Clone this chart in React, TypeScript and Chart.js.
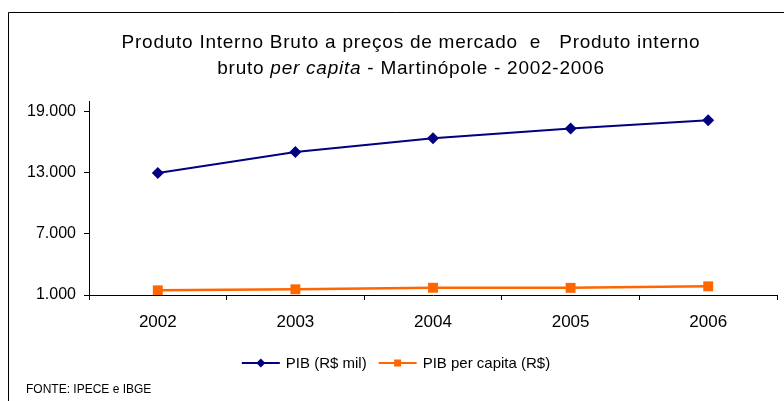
import { useEffect, useRef } from "react";
import { Chart, registerables } from "chart.js";

Chart.register(...registerables);

const years = ["2002", "2003", "2004", "2005", "2006"];
const pibMil = [12950, 15000, 16360, 17310, 18120];
const pibPerCapita = [1460, 1560, 1710, 1700, 1850];
const yTicks = [1000, 7000, 13000, 19000];
const seriesLabels = ["PIB (R$ mil)", "PIB per capita (R$)"];
const seriesColors = ["#000080", "#FF6600"];
const titleLine1 = "Produto Interno Bruto a preços de mercado  e   Produto interno";
const titleLine2 = ["bruto ", "per capita", " - Martinópole - 2002-2006"];
const sourceNote = "FONTE: IPECE e IBGE";

const F = "'Liberation Sans', Arial, sans-serif";

const fmt = (v: number) => String(v).replace(/\B(?=(\d{3})+(?!\d))/g, ".");

function drawMarker(ctx: CanvasRenderingContext2D, style: string, x: number, y: number, r: number, color: string) {
  ctx.fillStyle = color;
  ctx.beginPath();
  if (style === "rectRot") {
    ctx.moveTo(x, y - r);
    ctx.lineTo(x + r, y);
    ctx.lineTo(x, y + r);
    ctx.lineTo(x - r, y);
    ctx.closePath();
  } else {
    ctx.rect(x - r, y - r, 2 * r, 2 * r);
  }
  ctx.fill();
}

const decorPlugin = {
  id: "decor",
  afterDraw(chart: any) {
    const ctx: any = chart.ctx;
    ctx.save();
    // frame
    ctx.strokeStyle = "#000";
    ctx.lineWidth = 1;
    ctx.beginPath();
    ctx.moveTo(8.5, 401);
    ctx.lineTo(8.5, 12.5);
    ctx.lineTo(784, 12.5);
    ctx.stroke();

    // title
    ctx.fillStyle = "#000";
    ctx.textBaseline = "alphabetic";
    ctx.textAlign = "left";
    ctx.letterSpacing = "0.75px";
    ctx.font = `19px ${F}`;
    const w1 = ctx.measureText(titleLine1).width;
    ctx.fillText(titleLine1, 411 - w1 / 2, 48);
    const fonts = [`19px ${F}`, `italic 19px ${F}`, `19px ${F}`];
    const widths = titleLine2.map((t, i) => {
      ctx.font = fonts[i];
      return ctx.measureText(t).width;
    });
    let tx = 411 - widths.reduce((a, b) => a + b, 0) / 2;
    titleLine2.forEach((t, i) => {
      ctx.font = fonts[i];
      ctx.fillText(t, tx, 74);
      tx += widths[i];
    });
    ctx.letterSpacing = "0px";

    // legend
    const ly = 363;
    const sampleW = 38;
    const gapText = 6;
    const gapItem = 12;
    ctx.font = `15px ${F}`;
    ctx.textBaseline = "middle";
    const ds = chart.data.datasets;
    const tw = ds.map((d: any) => ctx.measureText(d.label).width);
    const total = ds.length * (sampleW + gapText) + tw.reduce((a: number, b: number) => a + b, 0) + gapItem * (ds.length - 1);
    let lx = 396 - total / 2;
    ds.forEach((d: any, i: number) => {
      ctx.strokeStyle = d.borderColor;
      ctx.lineWidth = 2;
      ctx.beginPath();
      ctx.moveTo(lx, ly);
      ctx.lineTo(lx + sampleW, ly);
      ctx.stroke();
      drawMarker(ctx, d.pointStyle, lx + sampleW / 2, ly, d.pointStyle === "rectRot" ? 4.5 : 3.5, d.borderColor);
      ctx.fillStyle = "#000";
      ctx.fillText(d.label, lx + sampleW + gapText, ly + 1);
      lx += sampleW + gapText + tw[i] + gapItem;
    });

    // source
    ctx.font = `12px ${F}`;
    ctx.fillStyle = "#000";
    ctx.textBaseline = "middle";
    ctx.fillText(sourceNote, 26, 390);
    ctx.restore();
  },
};

export default function App() {
  const ref = useRef<HTMLCanvasElement | null>(null);
  useEffect(() => {
    if (!ref.current) return;
    const chart = new Chart(ref.current, {
      type: "line",
      data: {
        labels: years,
        datasets: [
          {
            label: seriesLabels[0],
            data: pibMil,
            borderColor: seriesColors[0],
            backgroundColor: seriesColors[0],
            borderWidth: 2,
            pointStyle: "rectRot",
            pointRadius: 6,
            pointHoverRadius: 6,
            pointBorderWidth: 0,
            tension: 0,
          },
          {
            label: seriesLabels[1],
            data: pibPerCapita,
            borderColor: seriesColors[1],
            backgroundColor: seriesColors[1],
            borderWidth: 2.5,
            pointStyle: "rect",
            pointRadius: 7,
            pointHoverRadius: 7,
            pointBorderWidth: 0,
            tension: 0,
          },
        ],
      },
      options: {
        animation: false,
        responsive: false,
        layout: { padding: { top: 101, right: 5, bottom: 66, left: 0 } },
        plugins: {
          legend: { display: false },
          title: { display: false },
          tooltip: { enabled: false },
        },
        scales: {
          x: {
            type: "category",
            offset: true,
            grid: { display: true, drawOnChartArea: false, drawTicks: true, tickLength: 5, color: "#000", offset: true },
            border: { display: true, color: "#000", width: 1 },
            ticks: { color: "#000", font: { family: F, size: 17 }, padding: 12, maxRotation: 0, autoSkip: false },
            afterFit: (s: any) => {
              s.height = 40;
            },
          },
          y: {
            min: 1000,
            max: 20000,
            afterBuildTicks: (s: any) => {
              s.ticks = yTicks.map((v) => ({ value: v }));
            },
            grid: { display: true, drawOnChartArea: false, drawTicks: true, tickLength: 5, color: "#000" },
            border: { display: true, color: "#000", width: 1 },
            ticks: { color: "#000", font: { family: F, size: 16 }, padding: 8, callback: (v: any) => fmt(Number(v)) },
            afterFit: (s: any) => {
              s.width = 89;
            },
          },
        },
      },
      plugins: [decorPlugin],
    });
    return () => chart.destroy();
  }, []);
  return (
    <div style={{ position: "absolute", left: 0, top: 0, width: 784, height: 401, background: "#fff" }}>
      <canvas ref={ref} width={784} height={401} style={{ display: "block" }} />
    </div>
  );
}
